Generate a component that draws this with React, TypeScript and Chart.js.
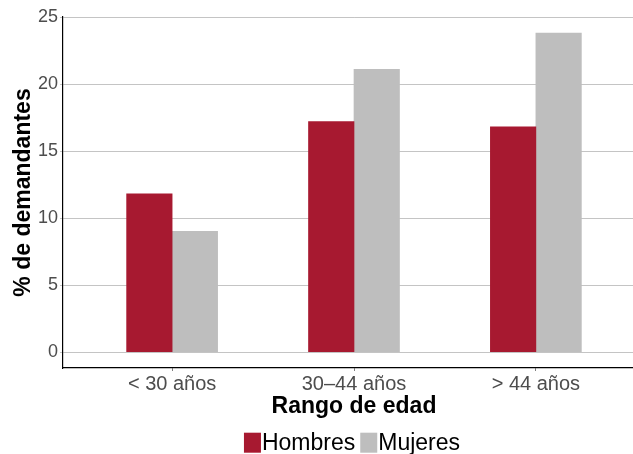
import React, { useEffect, useRef } from "react";
import { Chart, registerables } from "chart.js";

Chart.register(...registerables);

const categories = ["< 30 años", "30–44 años", "> 44 años"];
const seriesNames = ["Hombres", "Mujeres"];
const hombres = [11.8, 17.2, 16.8];
const mujeres = [9.0, 21.1, 23.8];
const yTicks = [0, 5, 10, 15, 20, 25];
const colors = ["#A71930", "#BEBEBE"];

const FONT = "'Liberation Sans', Arial, Helvetica, sans-serif";

const legendPlugin = {
  id: "ggLegend",
  afterDraw(chart: any) {
    const ctx = chart.ctx;
    const area = chart.chartArea;
    const boxW = 17;
    const boxH = 20;
    const gapBoxText = 1;
    const gapItems = 5;
    ctx.save();
    ctx.font = `23px ${FONT}`;
    const items = chart.data.datasets.map((d: any) => ({
      label: d.label,
      color: d.backgroundColor,
      w: ctx.measureText(d.label).width,
    }));
    let total = 0;
    items.forEach((it: any, i: number) => {
      total += boxW + gapBoxText + it.w + (i < items.length - 1 ? gapItems : 0);
    });
    const cx = (area.left + area.right) / 2 - 2;
    let x = cx - total / 2;
    const yc = 442.7;
    items.forEach((it: any) => {
      ctx.fillStyle = it.color;
      ctx.fillRect(x, yc - boxH / 2, boxW, boxH);
      x += boxW + gapBoxText;
      ctx.fillStyle = "#000000";
      ctx.textBaseline = "middle";
      ctx.textAlign = "left";
      ctx.fillText(it.label, x, yc + 1);
      x += it.w + gapItems;
    });
    ctx.restore();
  },
};

export default function App() {
  const ref = useRef<HTMLCanvasElement | null>(null);

  useEffect(() => {
    document.body.style.margin = "0";
    const canvas = ref.current;
    if (!canvas) return;
    const series = [hombres, mujeres];
    const chart = new Chart(canvas, {
      type: "bar",
      data: {
        datasets: series.map((vals, si) => ({
          label: seriesNames[si],
          data: vals.map((v, i) => ({ x: i + 1, y: v })),
          backgroundColor: colors[si],
          borderWidth: 0,
          barThickness: 45.5,
          grouped: true,
        })),
      },
      plugins: [legendPlugin],
      options: {
        animation: false,
        responsive: false,
        devicePixelRatio: 1,
        layout: { padding: { top: 17, left: 0, right: 0, bottom: 34 } },
        plugins: {
          legend: { display: false },
          tooltip: { enabled: false },
        },
        scales: {
          x: {
            type: "linear",
            offset: false,
            min: 0.4,
            max: 3.6,
            afterBuildTicks: (scale: any) => {
              scale.ticks = categories.map((_, i) => ({ value: i + 1 }));
            },
            afterFit: (scale: any) => {
              scale.height = 52;
            },
            grid: {
              offset: false,
              drawOnChartArea: false,
              drawTicks: true,
              tickLength: 3,
              color: "#7f7f7f",
            },
            border: { display: true, color: "#000000", width: 1.2 },
            ticks: {
              autoSkip: false,
              maxRotation: 0,
              padding: 1,
              color: "#4D4D4D",
              font: { family: FONT, size: 20 },
              callback: (v: any) => categories[Math.round(Number(v)) - 1] ?? "",
            },
            title: {
              display: true,
              text: "Rango de edad",
              color: "#000000",
              font: { family: FONT, size: 23, weight: "bold" },
              padding: { top: 0, bottom: 0 },
            },
          },
          y: {
            type: "linear",
            min: -1.19,
            max: 25,
            afterBuildTicks: (scale: any) => {
              scale.ticks = yTicks.map((v) => ({ value: v }));
            },
            afterFit: (scale: any) => {
              scale.width = 63;
            },
            grid: {
              drawTicks: true,
              tickLength: 3,
              color: "#C4C4C4",
              lineWidth: 1,
            },
            border: { display: true, color: "#000000", width: 1.2 },
            ticks: {
              padding: 2,
              color: "#4D4D4D",
              font: { family: FONT, size: 18 },
            },
            title: {
              display: true,
              text: "% de demandantes",
              color: "#000000",
              font: { family: FONT, size: 23, weight: "bold" },
              padding: { top: 10, bottom: 0 },
            },
          },
        },
      },
    });
    return () => chart.destroy();
  }, []);

  return (
    <div style={{ width: 633, height: 454, overflow: "hidden", position: "relative" }}>
      <canvas ref={ref} width={645} height={454} style={{ display: "block", width: 645, height: 454 }} />
    </div>
  );
}
